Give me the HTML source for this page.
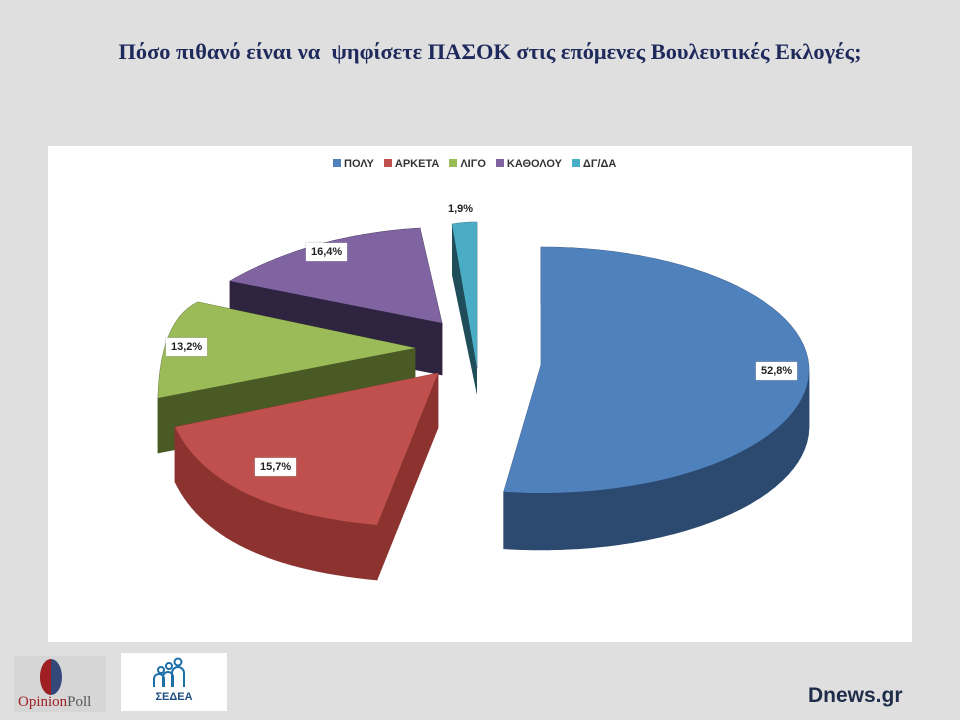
<!DOCTYPE html>
<html><head><meta charset="utf-8"><style>
body{margin:0;width:960px;height:720px;background:#dfdfdf;position:relative;overflow:hidden;font-family:"Liberation Sans",sans-serif}
.title{position:absolute;top:39px;left:0;width:980px;text-align:center;font-family:"Liberation Serif",serif;font-weight:bold;font-size:22.4px;color:#1f2a5c}
.chart{position:absolute;left:48px;top:146px;width:864px;height:496px;background:#fff}
.lbl{position:absolute;background:#fff;font-weight:bold;font-size:11px;color:#222;padding:3px 5px;box-shadow:0 0 2px #aaa}
.leg{position:absolute;top:158px;left:333px;font-size:11px;font-weight:bold;color:#333;white-space:nowrap}
.leg span{display:inline-block;margin-right:10px}
.leg i{display:inline-block;width:8px;height:8px;margin-right:3px}
</style></head><body>
<div class="title">Πόσο πιθανό είναι να &nbsp;ψηφίσετε ΠΑΣΟΚ στις επόμενες Βουλευτικές Εκλογές;</div>
<div class="chart"></div>
<div class="leg"><span><i style="background:#4f81bd"></i>ΠΟΛΥ</span><span><i style="background:#c0504d"></i>ΑΡΚΕΤΑ</span><span><i style="background:#9bbb59"></i>ΛΙΓΟ</span><span><i style="background:#8064a2"></i>ΚΑΘΟΛΟΥ</span><span><i style="background:#4bacc6"></i>ΔΓ/ΔΑ</span></div>
<svg id="pie" width="960" height="720" style="position:absolute;left:0;top:0"></svg>
<div class="lbl" style="left:756px;top:362px">52,8%</div>
<div class="lbl" style="left:255px;top:458px">15,7%</div>
<div class="lbl" style="left:166px;top:338px">13,2%</div>
<div class="lbl" style="left:306px;top:243px">16,4%</div>
<div style="position:absolute;left:448px;top:203px;font-size:11px;font-weight:bold;color:#222">1,9%</div>
<div style="position:absolute;left:14px;top:656px;width:92px;height:56px;background:#d6d6d6">
<div style="position:absolute;left:26px;top:3px;width:22px;height:36px;border-radius:50%;background:#34497a;overflow:hidden"><div style="width:11px;height:36px;background:#a01f22"></div></div>
<div style="position:absolute;left:4px;top:38px;font-family:'Liberation Serif',serif;font-size:15px;color:#a01f22">Opinion<span style="color:#555">Poll</span></div></div>
<div style="position:absolute;left:121px;top:653px;width:106px;height:58px;background:#fff">
<div style="position:absolute;left:0;top:38px;width:106px;text-align:center;font-size:11px;font-weight:bold;color:#1d4f80">ΣΕΔΕΑ</div>
<svg width="106" height="40" style="position:absolute;left:0;top:0"><g fill="none" stroke="#1d6fa8" stroke-width="2"><circle cx="40" cy="17" r="3"/><circle cx="48" cy="13" r="3"/><circle cx="57" cy="9" r="3.5"/><path d="M33 34v-8a5 5 0 0 1 10 0v8M42 34v-10a5 5 0 0 1 10 0v10M51 34v-14a6 6 0 0 1 12 0v14"/></g></svg></div>
<div style="position:absolute;left:808px;top:684px;font-size:21px;font-weight:bold;color:#1f2d4a">Dnews.gr</div>
<script>
var svg=document.getElementById('pie'),ns='http://www.w3.org/2000/svg';
function draw(p,top,side,D){
var g=document.createElementNS(ns,'g');
for(var i=0;i<p.length;i++){var A=p[i],B=p[(i+1)%p.length];var q=document.createElementNS(ns,'polygon');
q.setAttribute('points',[A,B,[B[0],B[1]+D],[A[0],A[1]+D]].map(function(x){return x.join(',')}).join(' '));q.setAttribute('fill',side);q.setAttribute('stroke',side);q.setAttribute('stroke-width','0.6');g.appendChild(q);}
var t=document.createElementNS(ns,'polygon');t.setAttribute('points',p.map(function(x){return x.join(',')}).join(' '));t.setAttribute('fill',top);g.appendChild(t);svg.appendChild(g);}
function bez(V,A,C,B){var p=[V];for(var i=0;i<=30;i++){var t=i/30,u=1-t;p.push([u*u*A[0]+2*u*t*C[0]+t*t*B[0],u*u*A[1]+2*u*t*C[1]+t*t*B[1]]);}return p;}
draw(bez([477,368],[477,222],[464,222],[452,224]),'#4bacc6','#1f4d5a',0);
(function(){var q=document.createElementNS(ns,'polygon');q.setAttribute('points','452,224 477,368 477,395 452,275');q.setAttribute('fill','#1f4d5a');svg.insertBefore(q,svg.firstChild);})();
draw(bez([442,323],[420,228],[310,235],[230,281]),'#8064a2','#2f2440',52);
draw(bez([415,348],[198,302],[160,320],[158,398]),'#9bbb59','#4a5a25',55);
(function(){var c=[541,370,268,123],p=[[541,365]];for(var a=0;a<=188.01;a+=188/60){var r=a*Math.PI/180;p.push([c[0]+c[2]*Math.sin(r),c[1]-c[3]*Math.cos(r)]);}draw(p,'#4f81bd','#2c4a70',57);})();
draw(bez([438,373],[175,427],[215,510],[377,525]),'#c0504d','#8c3330',55);
</script>
</body></html>
